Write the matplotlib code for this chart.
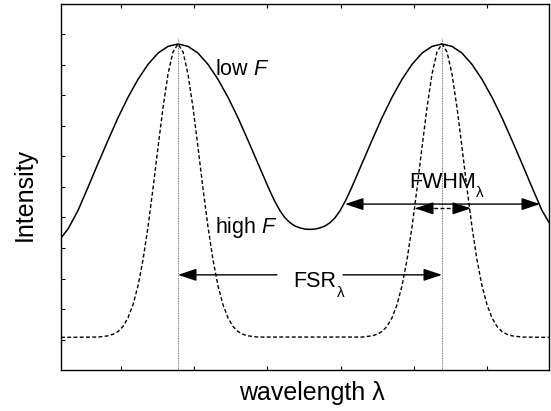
import matplotlib
matplotlib.use('Agg')
import matplotlib.pyplot as plt
import numpy as np

# Fonte parecida com Arial / Helvetica
plt.rcParams['font.family'] = ['Liberation Sans', 'DejaVu Sans']
plt.rcParams['mathtext.fontset'] = 'custom'
plt.rcParams['mathtext.rm'] = 'Liberation Sans'
plt.rcParams['mathtext.it'] = 'Liberation Sans:italic'

# Curva de baixa finesse (linha continua)
low_x = [0, 7, 17, 27, 37, 47, 57, 67, 77, 87, 97, 107, 117, 127, 137, 147, 157, 167, 177, 187,
         197, 207, 213, 219, 224, 229, 234, 239, 244, 249, 254, 259, 264, 269, 274, 279, 285, 291, 301, 311,
         321, 331, 341, 351, 361, 371, 381, 391, 401, 411, 421, 431, 441, 451, 461, 471, 481, 488]
low_y = [0.433, 0.462, 0.523, 0.599, 0.677, 0.753, 0.827, 0.894, 0.953, 1.002,
         1.039, 1.061, 1.069, 1.061, 1.039, 1.002, 0.953, 0.894, 0.827, 0.753,
         0.677, 0.601, 0.558, 0.522, 0.499, 0.483, 0.472, 0.466, 0.462, 0.461,
         0.462, 0.466, 0.472, 0.483, 0.499, 0.522, 0.558, 0.601, 0.677, 0.753,
         0.827, 0.894, 0.953, 1.002, 1.039, 1.061, 1.069, 1.061, 1.039, 1.002,
         0.953, 0.894, 0.827, 0.753, 0.677, 0.599, 0.523, 0.484]

# Curva de alta finesse (tracejada)
high_x = [0, 37, 47, 52, 57, 62, 67, 72, 77, 82, 87, 92, 97, 102, 107, 112, 117, 122, 127, 132,
          137, 142, 147, 152, 157, 162, 167, 172, 177, 182, 187, 197,
          301, 311, 316, 321, 326, 331, 336, 341, 346, 351, 356, 361, 366, 371, 376, 381, 386, 391,
          396, 401, 406, 411, 416, 421, 426, 431, 436, 441, 446, 451, 461, 488]
high_y = [0.107, 0.108, 0.112, 0.117, 0.126, 0.143, 0.171, 0.214, 0.276, 0.361,
          0.469, 0.595, 0.730, 0.860, 0.970, 1.043, 1.069, 1.043, 0.970, 0.860,
          0.730, 0.595, 0.469, 0.361, 0.276, 0.214, 0.171, 0.143, 0.126, 0.117,
          0.112, 0.108,
          0.108, 0.112, 0.117, 0.126, 0.143, 0.171, 0.214, 0.276, 0.361,
          0.469, 0.595, 0.730, 0.860, 0.970, 1.043, 1.069, 1.043, 0.970, 0.860,
          0.730, 0.595, 0.469, 0.361, 0.276, 0.214, 0.171, 0.143, 0.126, 0.117,
          0.112, 0.108, 0.107]

# Posicoes dos picos e das setas
picos = [117, 381]
fsr_y = 0.312
fwhm_low = [284, 479, 0.544]
fwhm_high = [354, 410, 0.530]

fig = plt.figure(figsize=(5.51, 4.11), dpi=100)
ax = fig.add_axes([61 / 551, 41 / 411, 488 / 551, 366 / 411])

ax.plot(low_x, low_y, color='black', lw=1.1)
ax.plot(high_x, high_y, color='black', lw=1.0, linestyle=(0, (2.8, 1.7)))
ax.vlines(picos, 0, 1.09, color='0.3', lw=0.6, linestyle=(0, (1, 1)))

estilo_cabeca = '-|>,head_length=0.75,head_width=0.25'


def seta(x_ini, x_fim, y, estilo=estilo_cabeca):
    ax.annotate('', xy=(x_fim, y), xytext=(x_ini, y),
                arrowprops=dict(arrowstyle=estilo, color='black', lw=1.0,
                                shrinkA=0, shrinkB=0, mutation_scale=15))


# FSR
seta(216, picos[0], fsr_y)
seta(282, picos[1], fsr_y)
ax.text(232, 0.272, 'FSR', fontsize=15.5)
ax.text(276, 0.239, 'λ', fontsize=11)

# FWHM baixa finesse
seta(fwhm_low[0], fwhm_low[1], fwhm_low[2], '<|-|>,head_length=0.75,head_width=0.25')

# FWHM alta finesse (tracejada)
ax.plot(fwhm_high[:2], [fwhm_high[2]] * 2, color='black', lw=1.0, linestyle=(0, (2.8, 1.7)))
seta(fwhm_high[0] + 18, fwhm_high[0], fwhm_high[2])
seta(fwhm_high[1] - 18, fwhm_high[1], fwhm_high[2])
ax.text(348, 0.597, 'FWHM', fontsize=15.5)
ax.text(415, 0.567, 'λ', fontsize=11)

ax.text(154, 0.967, r'low $F$', fontsize=15.5)
ax.text(154, 0.449, r'high $F$', fontsize=15.5)

ax.set_xlim(0, 488)
ax.set_ylim(0, 1.2)
ax.set_xticks(np.arange(59.7, 488, 73.3))
ax.set_yticks(np.arange(0.1, 1.15, 0.1))
ax.tick_params(direction='in', length=3, width=0.8, top=True, right=False,
               labelbottom=False, labelleft=False)
for lado in ax.spines.values():
    lado.set_linewidth(1.0)

fig.text(312 / 551, (411 - 400) / 411, 'wavelength λ', fontsize=18, ha='center', va='baseline')
fig.text(31.5 / 551, 1 - 194 / 411, 'Intensity', fontsize=18, rotation=90,
         ha='center', va='baseline', rotation_mode='anchor')

fig.savefig('out.png', dpi=100)
